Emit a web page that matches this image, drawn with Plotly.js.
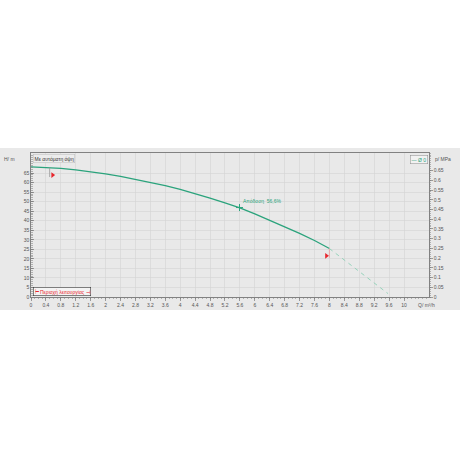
<!DOCTYPE html>
<html><head><meta charset="utf-8">
<script src="https://cdn.plot.ly/plotly-3.0.1.min.js"></script>
<style>html,body{margin:0;padding:0;background:#fff}#c{width:460px;height:460px}</style>
</head><body><div id="c"></div>
<script>
// Pump curve (solid, operating part) Q in m³/h, H in m
var qSolid = [0, 0.4, 0.8, 1.2, 1.6, 2.0, 2.4, 2.8, 3.2, 3.6, 4.0, 4.4, 4.8, 5.2, 5.6, 6.0, 6.4, 6.8, 7.2, 7.6, 8.0];
var hSolid = [68.2, 67.9, 67.4, 66.6, 65.7, 64.6, 63.3, 61.8, 60.2, 58.4, 56.4, 54.2, 51.8, 49.3, 46.7, 43.6, 40.3, 36.9, 33.4, 29.6, 25.4];
// Extension (dashed)
var qDash = [8.0, 8.4, 8.8, 9.2, 9.57];
var hDash = [25.4, 19.4, 13.2, 7.0, 1.8];
// Operating point
var opQ = [5.59];
var opH = [46.9];
var opLabel = "Απόδοση  56,6%";
// Operating range limits
var rangeQ = [0.5, 8.0];
var rangeCurveH = [67.8, 25.4];
var rangeMarkH = [63.9, 21.6];
// Axis ticks
var xTicks = [0,0.4,0.8,1.2,1.6,2,2.4,2.8,3.2,3.6,4,4.4,4.8,5.2,5.6,6,6.4,6.8,7.2,7.6,8,8.4,8.8,9.2,9.6,10];
var yTicks = [0,5,10,15,20,25,30,35,40,45,50,55,60,65];
var pTicks = [0,0.05,0.1,0.15,0.2,0.25,0.3,0.35,0.4,0.45,0.5,0.55,0.6,0.65];
var xMax = 10.67, hMax = 75.5, mPerMPa = 101.97;

var green = '#2ba37c', fnt = 'Liberation Sans, Arial, sans-serif', tc = '#555';

var traces = [
  {x: qSolid, y: hSolid, mode: 'lines', line: {color: green, width: 1.3}, hoverinfo: 'skip'},
  {x: qDash, y: hDash, mode: 'lines', line: {color: '#8ccfb6', width: 0.9, dash: '4px,4px'}, hoverinfo: 'skip'},
  {x: opQ, y: opH, mode: 'markers', marker: {symbol: 'cross-thin-open', size: 5, color: green, line: {color: green, width: 1}}, hoverinfo: 'skip'},
  {x: [rangeQ[0] + 0.08], y: [rangeMarkH[0]], mode: 'markers', marker: {symbol: 'triangle-right', size: 5, color: '#e8262d'}, hoverinfo: 'skip'},
  {x: [rangeQ[1] - 0.08], y: [rangeMarkH[1]], mode: 'markers', marker: {symbol: 'triangle-right', size: 5, color: '#e8262d'}, hoverinfo: 'skip'},
  {x: qSolid, y: hSolid.map(function(h){return h / mPerMPa;}), yaxis: 'y2', mode: 'lines', line: {width: 0}, opacity: 0, hoverinfo: 'skip'}
];

var shapes = [
  {type: 'rect', xref: 'paper', yref: 'paper', x0: -0.08, x1: 1.08, y0: -0.09, y1: 1.035, fillcolor: '#e9e9e9', line: {width: 0}, layer: 'below'},
  {type: 'line', xref: 'x', yref: 'y', x0: rangeQ[0], x1: rangeQ[0], y0: rangeCurveH[0], y1: rangeMarkH[0] - 1, line: {color: '#999', width: 0.8}},
  {type: 'line', xref: 'x', yref: 'y', x0: rangeQ[1], x1: rangeQ[1], y0: rangeCurveH[1], y1: rangeMarkH[1] - 1, line: {color: '#e8a0a0', width: 0.8}}
];

var annotations = [
  {xref: 'paper', yref: 'paper', x: -0.035, y: 0.96, xanchor: 'right', yanchor: 'middle', text: 'H/ m', showarrow: false, font: {family: fnt, size: 5, color: tc}},
  {xref: 'paper', yref: 'paper', x: 1.01, y: 0.96, xanchor: 'left', yanchor: 'middle', text: 'p/ MPa', showarrow: false, font: {family: fnt, size: 5, color: tc}},
  {xref: 'paper', yref: 'paper', x: 0.968, y: -0.055, xanchor: 'left', yanchor: 'middle', text: 'Q/ m³/h', showarrow: false, font: {family: fnt, size: 5, color: tc}},
  {xref: 'paper', yref: 'paper', x: 0.005, y: 0.96, xanchor: 'left', yanchor: 'middle', text: 'Με αυτόματη όψη', showarrow: false, font: {family: fnt, size: 5, color: '#333'}, bgcolor: '#ececec', bordercolor: '#bbb', borderwidth: 0.5, borderpad: 1},
  {xref: 'paper', yref: 'paper', x: 0.997, y: 0.985, xanchor: 'right', yanchor: 'top', text: '— Ø 0', showarrow: false, font: {family: fnt, size: 5, color: green}, bgcolor: '#f2f2f2', bordercolor: '#888', borderwidth: 0.5, borderpad: 1},
  {xref: 'paper', yref: 'paper', x: 0.005, y: 0.005, xanchor: 'left', yanchor: 'bottom', text: '⊢ Περιοχή λειτουργίας ⊣', showarrow: false, font: {family: fnt, size: 5, color: '#e8262d'}, bgcolor: '#f4f4f4', bordercolor: '#333', borderwidth: 0.6, borderpad: 1},
  {xref: 'x', yref: 'y', x: opQ[0] + 0.03, y: opH[0] + 0.6, xanchor: 'left', yanchor: 'bottom', text: opLabel, showarrow: false, font: {family: fnt, size: 5, color: green}}
];

var layout = {
  width: 460, height: 460,
  margin: {l: 31, r: 31, t: 153, b: 163, pad: 0},
  paper_bgcolor: '#ffffff', plot_bgcolor: '#ececec',
  showlegend: false,
  xaxis: {range: [0, xMax], tickvals: xTicks, ticktext: xTicks.map(String), showgrid: true, gridcolor: '#d3d3d3', gridwidth: 0.6,
          zeroline: false, showline: true, linecolor: '#666', linewidth: 0.8, mirror: true,
          ticks: 'outside', ticklen: 3, tickcolor: '#666', tickwidth: 0.6,
          minor: {dtick: 0.1, tick0: 0, ticks: 'outside', ticklen: 1.5, tickcolor: '#777', tickwidth: 0.5, showgrid: false},
          tickfont: {family: fnt, size: 5, color: tc}, fixedrange: true},
  yaxis: {range: [0, hMax], tickvals: yTicks, ticktext: yTicks.map(String), showgrid: true, gridcolor: '#d3d3d3', gridwidth: 0.6,
          zeroline: false, showline: true, linecolor: '#666', linewidth: 0.8,
          ticks: 'inside', ticklen: 3, tickcolor: '#666', tickwidth: 0.6,
          minor: {dtick: 1, tick0: 0, ticks: 'inside', ticklen: 1.5, tickcolor: '#777', tickwidth: 0.5, showgrid: false},
          tickfont: {family: fnt, size: 5, color: tc}, fixedrange: true},
  yaxis2: {overlaying: 'y', side: 'right', range: [0, hMax / mPerMPa], tickvals: pTicks, ticktext: pTicks.map(String), showgrid: false,
          zeroline: false, showline: true, linecolor: '#666', linewidth: 0.8,
          ticks: 'outside', ticklen: 3, tickcolor: '#666', tickwidth: 0.6,
          minor: {dtick: 0.01, tick0: 0, ticks: 'outside', ticklen: 1.5, tickcolor: '#777', tickwidth: 0.5, showgrid: false},
          tickfont: {family: fnt, size: 5, color: tc}, fixedrange: true},
  shapes: shapes,
  annotations: annotations
};

Plotly.newPlot('c', traces, layout, {staticPlot: true, displayModeBar: false});
</script>
</body></html>
